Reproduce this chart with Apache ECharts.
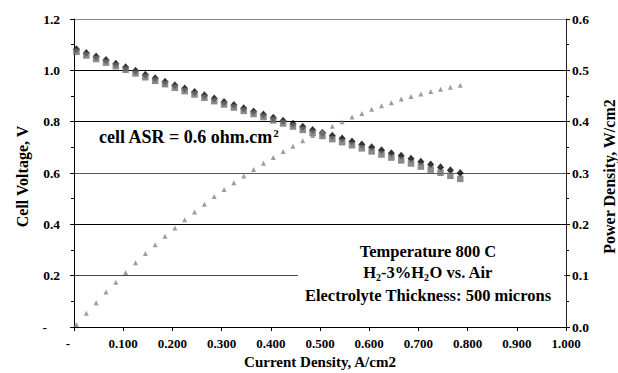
<!DOCTYPE html>
<html>
<head>
<meta charset="utf-8">
<script src="https://cdn.jsdelivr.net/npm/echarts@6/dist/echarts.min.js"></script>
<style>
html,body{margin:0;padding:0;background:#fff;overflow:hidden;}
#chart{width:618px;height:373px;}
</style>
</head>
<body>
<div id="chart"></div>
<script>
const currentDensity = [0.005,0.025,0.045,0.065,0.085,0.105,0.125,0.145,0.165,0.185,0.205,0.225,0.245,0.265,0.285,0.305,0.325,0.345,0.365,0.385,0.405,0.425,0.445,0.465,0.485,0.505,0.525,0.545,0.565,0.585,0.605,0.625,0.645,0.665,0.685,0.705,0.725,0.745,0.765,0.785];
const voltageBlack = [1.082,1.068,1.054,1.040,1.026,1.012,0.998,0.983,0.969,0.956,0.942,0.929,0.916,0.903,0.890,0.877,0.865,0.852,0.840,0.828,0.815,0.804,0.792,0.780,0.768,0.757,0.745,0.734,0.723,0.711,0.700,0.689,0.677,0.667,0.656,0.644,0.633,0.622,0.611,0.600];
const voltageGray = [1.072,1.058,1.044,1.030,1.016,1.002,0.988,0.973,0.959,0.946,0.932,0.919,0.906,0.893,0.880,0.867,0.855,0.842,0.830,0.818,0.805,0.793,0.781,0.768,0.756,0.744,0.732,0.720,0.708,0.696,0.684,0.672,0.660,0.649,0.637,0.625,0.613,0.601,0.589,0.577];
const powerDensity = [0.005,0.027,0.047,0.068,0.087,0.106,0.125,0.143,0.160,0.177,0.193,0.209,0.224,0.239,0.254,0.268,0.281,0.294,0.307,0.319,0.330,0.342,0.352,0.363,0.373,0.382,0.391,0.400,0.409,0.416,0.424,0.431,0.437,0.444,0.449,0.454,0.459,0.463,0.467,0.471];

const xTitle = 'Current Density, A/cm2';
const yLeftTitle = 'Cell Voltage, V';
const yRightTitle = 'Power Density, W/cm2';

const FONT = '"Liberation Serif", "Times New Roman", serif';
const TICK = 13.5;
const TITLE = 16;
const NOTE = 16.5;
const tickFont = {fontFamily: FONT, fontWeight: 'bold', fontSize: TICK, color: '#000'};
const titleFont = {fontFamily: FONT, fontWeight: 'bold', fontSize: TITLE, color: '#000'};
const vTitleFont = Object.assign({}, titleFont, {padding: [0, 7, 0, 0]});

const chart = echarts.init(document.getElementById('chart'), null, {renderer: 'svg'});
const pair = (ys) => currentDensity.map((x, i) => [x, ys[i]]);

chart.setOption({
  backgroundColor: '#fff',
  animation: false,
  grid: {left: 74, right: 52, top: 19, bottom: 46, containLabel: false, outerBoundsMode: 'none'},
  xAxis: {
    type: 'value', min: 0, max: 1.0, interval: 0.1,
    name: xTitle, nameLocation: 'middle', nameGap: 27, nameMoveOverlap: false,
    nameTextStyle: Object.assign({}, titleFont, {fontSize: 15}),
    axisLine: {show: true, lineStyle: {color: '#000', width: 1}},
    axisTick: {show: true, length: 4, lineStyle: {color: '#000'}},
    splitLine: {show: false},
    axisLabel: Object.assign({}, tickFont, {
      fontSize: 13,
      margin: 10,
      formatter: v => v === 0 ? '{d|-}' : v.toFixed(3),
      rich: {d: {fontFamily: FONT, fontWeight: 'bold', fontSize: 13, padding: [0, 12, 0, 0]}}
    })
  },
  yAxis: [{
    type: 'value', min: 0, max: 1.2, interval: 0.2, position: 'left',
    name: yLeftTitle, nameLocation: 'middle', nameGap: 44, nameRotate: 90,
    nameTextStyle: vTitleFont,
    axisLine: {show: true, lineStyle: {color: '#000', width: 1}},
    axisTick: {show: true, length: 4, lineStyle: {color: '#000'}},
    minorTick: {show: true, splitNumber: 2, length: 3, lineStyle: {color: '#000'}},
    splitLine: {show: true, lineStyle: {color: ['#000', '#444', '#000', '#555', '#000', '#000', '#888'], width: 1}},
    axisLabel: Object.assign({}, tickFont, {
      margin: 14,
      formatter: v => v === 0 ? '{d|-}' : v.toFixed(1),
      rich: {d: {fontFamily: FONT, fontWeight: 'bold', fontSize: TICK, padding: [0, 13, 0, 0]}}
    })
  }, {
    type: 'value', min: 0, max: 0.6, interval: 0.1, position: 'right',
    name: yRightTitle, nameLocation: 'middle', nameGap: 35, nameRotate: 90,
    nameTextStyle: vTitleFont,
    axisLine: {show: true, lineStyle: {color: '#222', width: 1}},
    axisTick: {show: true, length: 4, lineStyle: {color: '#000'}},
    minorTick: {show: true, splitNumber: 2, length: 3, lineStyle: {color: '#000'}},
    splitLine: {show: false},
    axisLabel: Object.assign({}, tickFont, {margin: 6, formatter: v => v.toFixed(1)})
  }],
  series: [{
    name: 'Voltage A', type: 'scatter', yAxisIndex: 0, data: pair(voltageBlack),
    symbol: 'diamond', symbolSize: [7, 8], itemStyle: {color: '#000'}, z: 2
  }, {
    name: 'Voltage B', type: 'scatter', yAxisIndex: 0, data: pair(voltageGray),
    symbol: 'rect', symbolSize: 6.5, itemStyle: {color: '#6e6e6e'}, z: 3
  }, {
    name: 'Power', type: 'scatter', yAxisIndex: 1, data: pair(powerDensity),
    symbol: 'triangle', symbolSize: 5, itemStyle: {color: '#858585'}, z: 4
  }],
  graphic: [
    {type: 'rect', z: 10, shape: {x: 298, y: 238, width: 266, height: 66}, style: {fill: '#fff'}},
    {type: 'text', z: 11, x: 99, y: 137, style: {
      text: '{n|cell ASR = 0.6 ohm.cm}{s|2}', textVerticalAlign: 'middle', textAlign: 'left',
      rich: {
        n: {fontFamily: FONT, fontWeight: 'bold', fontSize: 18, lineHeight: 20, fill: '#000'},
        s: {fontFamily: FONT, fontWeight: 'bold', fontSize: 11, lineHeight: 11, verticalAlign: 'top', fill: '#000'}
      }}},
    {type: 'text', z: 11, x: 428, y: 251, style: {
      text: 'Temperature 800 C', textAlign: 'center', textVerticalAlign: 'middle',
      fontFamily: FONT, fontWeight: 'bold', fontSize: NOTE, fill: '#000'}},
    {type: 'text', z: 11, x: 428, y: 272, style: {
      text: '{n|H}{b|2}{n|-3%H}{b|2}{n|O vs. Air}', textAlign: 'center', textVerticalAlign: 'middle',
      rich: {
        n: {fontFamily: FONT, fontWeight: 'bold', fontSize: NOTE, lineHeight: 20, fill: '#000'},
        b: {fontFamily: FONT, fontWeight: 'bold', fontSize: 10, lineHeight: 10, verticalAlign: 'bottom', fill: '#000'}
      }}},
    {type: 'text', z: 11, x: 428, y: 295, style: {
      text: 'Electrolyte Thickness: 500 microns', textAlign: 'center', textVerticalAlign: 'middle',
      fontFamily: FONT, fontWeight: 'bold', fontSize: NOTE, fill: '#000'}}
  ]
});
</script>
</body>
</html>
